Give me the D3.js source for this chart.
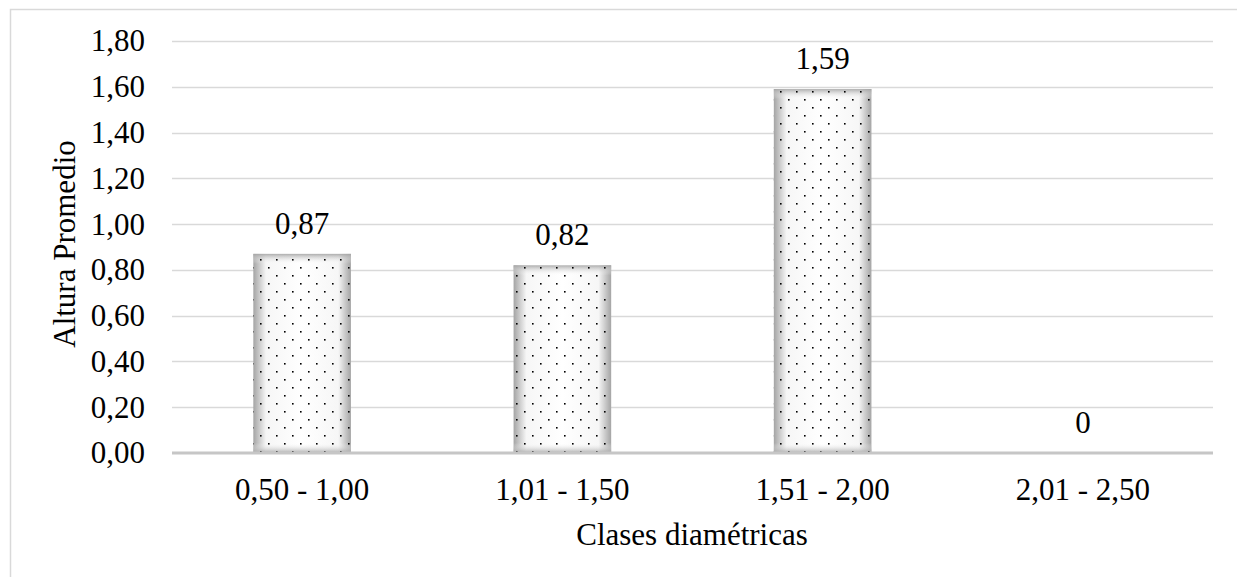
<!DOCTYPE html>
<html><head><meta charset="utf-8">
<script src="https://cdn.jsdelivr.net/npm/d3@7"></script>
<style>
html,body{margin:0;padding:0;background:#fff;}
svg{display:block;font-family:"Liberation Serif","Times New Roman",serif;}
</style></head>
<body>
<svg id="chart" width="1237" height="577"></svg>
<script>
const categories = ["0,50 - 1,00", "1,01 - 1,50", "1,51 - 2,00", "2,01 - 2,50"];
const values = [0.87, 0.82, 1.59, 0];
const valueLabels = ["0,87", "0,82", "1,59", "0"];
const yTicks = [0, 0.2, 0.4, 0.6, 0.8, 1.0, 1.2, 1.4, 1.6, 1.8];
const yTitle = "Altura Promedio";
const xTitle = "Clases diamétricas";

const svg = d3.select("#chart");
const W = 1237, H = 577;
const m = {left: 172, right: 1213, top: 41, bottom: 453};
const FS = 31;
const FF = "Liberation Serif";

// outer border
svg.append("rect").attr("x", 10.5).attr("y", 9.5).attr("width", W).attr("height", H)
  .attr("fill", "none").attr("stroke", "#d9d9d9").attr("stroke-width", 1.5);

const defs = svg.append("defs");
const hg = defs.append("linearGradient").attr("id", "hg").attr("x1", "0").attr("x2", "1").attr("y1", "0").attr("y2", "0");
[[0, "#a4a4a4"], [0.13, "#f6f6f6"], [0.5, "#ffffff"], [0.87, "#f6f6f6"], [1, "#a4a4a4"]]
  .forEach(([o, c]) => hg.append("stop").attr("offset", o).attr("stop-color", c));
const vgTop = defs.append("linearGradient").attr("id", "vgTop").attr("x1", "0").attr("x2", "0").attr("y1", "0").attr("y2", "1");
vgTop.append("stop").attr("offset", 0).attr("stop-color", "#a4a4a4").attr("stop-opacity", 0.9);
vgTop.append("stop").attr("offset", 1).attr("stop-color", "#ffffff").attr("stop-opacity", 0);
const vgBot = defs.append("linearGradient").attr("id", "vgBot").attr("x1", "0").attr("x2", "0").attr("y1", "1").attr("y2", "0");
vgBot.append("stop").attr("offset", 0).attr("stop-color", "#a4a4a4").attr("stop-opacity", 0.9);
vgBot.append("stop").attr("offset", 1).attr("stop-color", "#ffffff").attr("stop-opacity", 0);
const pat = defs.append("pattern").attr("id", "dots").attr("patternUnits", "userSpaceOnUse")
  .attr("width", 16).attr("height", 16).attr("x", 4).attr("y", 3);
pat.append("rect").attr("x", 0).attr("y", 0).attr("width", 1.6).attr("height", 1.6).attr("fill", "#000");
pat.append("rect").attr("x", 8).attr("y", 8).attr("width", 1.6).attr("height", 1.6).attr("fill", "#000");

const x = d3.scaleBand().domain(categories).range([m.left, m.right]).paddingInner(0.625).paddingOuter(0.3125);
const y = d3.scaleLinear().domain([0, 1.8]).range([m.bottom, m.top]);

// gridlines
svg.append("g").selectAll("line").data(yTicks.filter(d => d > 0)).join("line")
  .attr("x1", m.left).attr("x2", m.right)
  .attr("y1", d => Math.round(y(d)) + 0.5).attr("y2", d => Math.round(y(d)) + 0.5)
  .attr("stroke", "#d9d9d9").attr("stroke-width", 1.5);

// y axis labels
const yAxis = d3.axisLeft(y).tickValues(yTicks).tickSize(0).tickPadding(0)
  .tickFormat(d => d3.format(".2f")(d).replace(".", ","));
const gy = svg.append("g").attr("transform", `translate(145,0)`).call(yAxis);
gy.attr("font-family", FF).attr("font-size", FS);
gy.select(".domain").remove();
gy.selectAll("text").attr("font-size", FS).attr("fill", "#000").attr("font-family", FF);

// bars
const bars = svg.append("g").selectAll("g").data(values.map((v, i) => ({v, c: categories[i], l: valueLabels[i]}))).join("g");
bars.filter(d => d.v > 0).each(function(d) {
  const g = d3.select(this);
  const bx = x(d.c), bw = x.bandwidth(), by = y(d.v), bh = y(0) - y(d.v);
  const e = Math.min(10, bh / 2);
  g.append("rect").attr("x", bx).attr("y", by).attr("width", bw).attr("height", bh).attr("fill", "url(#hg)");
  g.append("rect").attr("x", bx).attr("y", by).attr("width", bw).attr("height", e).attr("fill", "url(#vgTop)");
  g.append("rect").attr("x", bx).attr("y", y(0) - e).attr("width", bw).attr("height", e).attr("fill", "url(#vgBot)");
  g.append("rect").attr("x", bx).attr("y", by).attr("width", bw).attr("height", bh).attr("fill", "url(#dots)");
});

// value labels
bars.append("text")
  .attr("x", d => x(d.c) + x.bandwidth() / 2)
  .attr("y", d => y(d.v) - 20)
  .attr("text-anchor", "middle").attr("font-size", FS).attr("fill", "#000")
  .text(d => d.l);

// baseline
svg.append("line").attr("x1", m.left).attr("x2", m.right).attr("y1", y(0)).attr("y2", y(0))
  .attr("stroke", "#c6c6c6").attr("stroke-width", 3);

// x axis labels
const xAxis = d3.axisBottom(x).tickSize(0).tickPadding(0);
const gx = svg.append("g").attr("transform", `translate(0,${y(0) + 25})`).call(xAxis);
gx.attr("font-family", FF).attr("font-size", FS);
gx.select(".domain").remove();
gx.selectAll("text").attr("font-size", FS).attr("fill", "#000").attr("font-family", FF);

// titles
svg.append("text").attr("x", 692).attr("y", 545).attr("text-anchor", "middle")
  .attr("font-size", FS).attr("fill", "#000").text(xTitle);
svg.append("text").attr("transform", `translate(75,244) rotate(-90)`).attr("text-anchor", "middle")
  .attr("font-size", FS).attr("fill", "#000").text(yTitle);
</script>
</body></html>
